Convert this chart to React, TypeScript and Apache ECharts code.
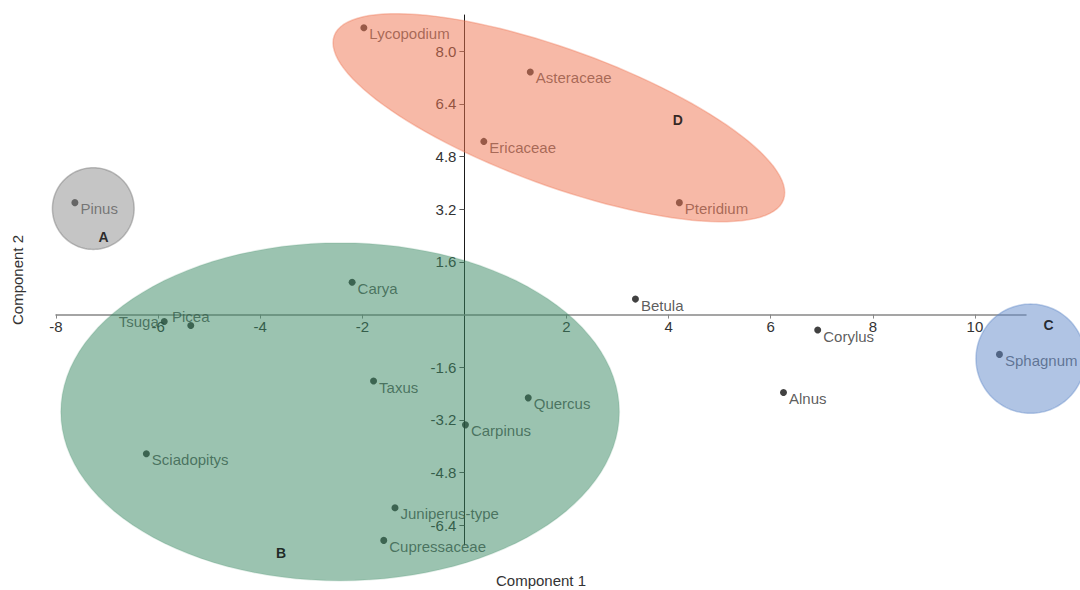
import React, { useEffect, useRef } from "react";
import * as echarts from "echarts";

// ---- data ----
const taxa = [
  "Lycopodium", "Asteraceae", "Ericaceae", "Pteridium", "Pinus", "Carya",
  "Betula", "Tsuga", "Picea", "Corylus", "Sphagnum", "Taxus", "Alnus",
  "Quercus", "Carpinus", "Sciadopitys", "Juniperus-type", "Cupressaceae",
];
const component1 = [
  -1.97, 1.29, 0.38, 4.21, -7.63, -2.2, 3.35, -5.88, -5.36, 6.92, 10.48,
  -1.78, 6.25, 1.25, 0.02, -6.23, -1.36, -1.58,
];
const component2 = [
  8.71, 7.37, 5.26, 3.4, 3.4, 0.98, 0.47, -0.21, -0.33, -0.47, -1.21, -2.02,
  -2.37, -2.53, -3.35, -4.23, -5.87, -6.86,
];

const groupNames = ["A", "B", "C", "D"];
const groupLabelX = [-7.07, -3.59, 11.44, 4.18];
const groupLabelY = [2.37, -7.25, -0.32, 5.91];

// ellipses (data units): centre, end of the major semi-axis, minor/major ratio
const ellipseCenterX = [-7.27, -2.435, 11.09, 1.85];
const ellipseCenterY = [3.22, -2.955, -1.34, 5.98];
const ellipseAxisEndX = [-6.47, 3.035, 12.16, 6.25];
const ellipseAxisEndY = [3.22, -2.955, -1.34, 3.49];
const ellipseMinorRatio = [1.0, 0.605, 1.0, 0.285];

const xTicks = [-8, -6, -4, -2, 2, 4, 6, 8, 10];
const yTicks = [-6.4, -4.8, -3.2, -1.6, 1.6, 3.2, 4.8, 6.4, 8.0];
const X_MIN = -8;
const X_MAX = 11;
const Y_MIN = -7.0;
const Y_MAX = 9.1;

// ---- styles ----
const FONT = '"Liberation Sans", Arial, sans-serif';
const ellipseFill = [
  "rgba(139,139,139,0.5)",
  "rgba(55,135,97,0.5)",
  "rgba(97,137,201,0.5)",
  "rgba(239,115,79,0.5)",
];
const ellipseStroke = [
  "rgba(120,120,120,0.45)",
  "rgba(55,135,97,0.15)",
  "rgba(97,137,201,0.4)",
  "rgba(239,115,79,0.35)",
];
const labelPlacement: Record<string, any> = {
  Tsuga: { position: "left", distance: 2, offset: [0, 0] },
  Picea: { position: "top", distance: 0, offset: [0, 2] },
};

export default function App() {
  const ref = useRef<HTMLDivElement>(null);

  useEffect(() => {
    if (!ref.current) return;
    const chart = echarts.init(ref.current, undefined, { renderer: "svg" });

    const pointData = taxa.map((name, i) => {
      const item: any = { name, value: [component1[i], component2[i]] };
      if (labelPlacement[name]) item.label = labelPlacement[name];
      return item;
    });
    const groupData = groupNames.map((name, i) => ({
      name,
      value: [groupLabelX[i], groupLabelY[i]],
    }));
    const ellipseData = groupNames.map((name, i) => ({
      name,
      value: [
        ellipseCenterX[i],
        ellipseCenterY[i],
        ellipseAxisEndX[i],
        ellipseAxisEndY[i],
        ellipseMinorRatio[i],
      ],
    }));

    chart.setOption({
      animation: false,
      textStyle: { fontFamily: FONT },
      grid: { left: 56, right: 54, top: 15, bottom: 45, containLabel: false },
      xAxis: {
        type: "value",
        position: "bottom",
        min: X_MIN,
        max: X_MAX,
        splitLine: { show: false },
        axisLine: { onZero: false, lineStyle: { color: "#878787", width: 1.5 } },
        axisTick: {
          show: true,
          length: 4,
          customValues: xTicks,
          lineStyle: { color: "#878787" },
        },
        axisLabel: {
          customValues: xTicks,
          margin: 4,
          fontSize: 15,
          color: "#333",
          fontFamily: FONT,
        },
      },
      yAxis: {
        type: "value",
        position: "left",
        min: Y_MIN,
        max: Y_MAX,
        splitLine: { show: false },
        axisLine: { onZero: false, lineStyle: { color: "#1a1a1a", width: 1 } },
        axisTick: {
          show: true,
          length: 5,
          customValues: yTicks,
          lineStyle: { color: "#555" },
        },
        axisLabel: {
          customValues: yTicks,
          margin: 8,
          fontSize: 15,
          color: "#333",
          fontFamily: FONT,
          formatter: (v: number) => v.toFixed(1),
        },
      },
      graphic: [
        {
          type: "text",
          x: 541,
          y: 580,
          style: {
            text: "Component 1",
            font: `15px ${FONT}`,
            fill: "#333",
            align: "center",
            verticalAlign: "middle",
          },
        },
        {
          type: "text",
          x: 17,
          y: 280,
          rotation: Math.PI / 2,
          style: {
            text: "Component 2",
            font: `15px ${FONT}`,
            fill: "#333",
            align: "center",
            verticalAlign: "middle",
          },
        },
      ],
      series: [
        {
          type: "scatter",
          name: "taxa",
          z: 2,
          symbolSize: 7,
          itemStyle: { color: "#111" },
          label: {
            show: true,
            formatter: "{b}",
            position: "right",
            distance: 2,
            offset: [0, 6],
            fontSize: 15,
            color: "#333",
            fontFamily: FONT,
          },
          data: pointData,
        },
        {
          type: "custom",
          name: "clusters",
          z: 5,
          clip: false,
          silent: true,
          renderItem: (params: any, api: any) => {
            const i = params.dataIndex;
            const c = api.coord([api.value(0), api.value(1)]);
            const e = api.coord([api.value(2), api.value(3)]);
            const a = Math.hypot(e[0] - c[0], e[1] - c[1]);
            const th = Math.atan2(e[1] - c[1], e[0] - c[0]);
            const b = a * api.value(4);
            const pts: number[][] = [];
            const n = 120;
            for (let k = 0; k < n; k++) {
              const t = (k / n) * Math.PI * 2;
              pts.push([
                c[0] + a * Math.cos(t) * Math.cos(th) - b * Math.sin(t) * Math.sin(th),
                c[1] + a * Math.cos(t) * Math.sin(th) + b * Math.sin(t) * Math.cos(th),
              ]);
            }
            return {
              type: "polygon",
              shape: { points: pts },
              style: {
                fill: ellipseFill[i],
                stroke: ellipseStroke[i],
                lineWidth: 1.5,
              },
            };
          },
          data: ellipseData,
        },
        {
          type: "scatter",
          name: "groups",
          z: 10,
          clip: false,
          symbolSize: 1,
          itemStyle: { color: "rgba(0,0,0,0)" },
          label: {
            show: true,
            formatter: "{b}",
            position: "inside",
            fontSize: 14,
            fontWeight: "bold",
            color: "#000",
            fontFamily: FONT,
          },
          data: groupData,
        },
      ],
    });

    // move both axes (line, ticks and labels) onto the zero lines of the other axis
    const pZero = chart.convertToPixel({ gridIndex: 0 }, [0, 0]) as number[];
    const pMin = chart.convertToPixel({ gridIndex: 0 }, [X_MIN, Y_MIN]) as number[];
    chart.setOption({
      xAxis: { offset: pZero[1] - pMin[1] },
      yAxis: { offset: pMin[0] - pZero[0] },
    });

    return () => chart.dispose();
  }, []);

  return (
    <div
      ref={ref}
      style={{ position: "absolute", left: 0, top: 0, width: 1080, height: 590 }}
    />
  );
}
